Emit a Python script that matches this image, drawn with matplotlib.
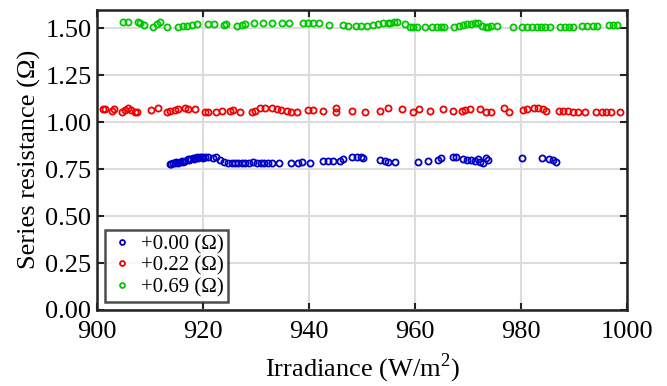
import numpy as np
import matplotlib.pyplot as plt

plt.rcParams['font.family'] = ['Liberation Serif', 'DejaVu Serif']
plt.rcParams['mathtext.fontset'] = 'custom'
plt.rcParams['mathtext.rm'] = 'Liberation Serif'

# Series +0.00 (blue)
blue_x = [913.8, 914.3, 914.7, 915.2, 915.7, 916.2, 916.6, 917.1, 917.5, 918.1,
          918.5, 918.9, 919.4, 919.9, 920.4, 921.0, 921.8, 922.5, 923.2, 924.0,
          924.8, 925.4, 926.0, 926.7, 927.3, 927.9, 928.7, 929.5, 930.1, 930.9,
          931.5, 932.3, 933.1, 934.4, 936.7, 938.0, 938.6, 940.1, 942.6, 943.6,
          944.6, 945.8, 946.5, 948.1, 949.0, 949.8, 950.1, 953.4, 954.3, 955.0,
          956.2, 960.6, 962.5, 964.4, 965.0, 967.1, 967.7, 969.1, 969.9, 970.5,
          971.3, 971.8, 972.3, 972.9, 973.4, 973.8, 980.1, 984.0, 985.3, 986.0,
          986.7, 914.0, 915.0, 916.0, 917.3, 918.3, 919.1, 920.0]
blue_y = [0.777, 0.781, 0.781, 0.784, 0.786, 0.790, 0.795, 0.802, 0.805, 0.808,
          0.810, 0.813, 0.816, 0.816, 0.813, 0.813, 0.808, 0.813, 0.799, 0.790,
          0.784, 0.784, 0.781, 0.784, 0.784, 0.784, 0.784, 0.787, 0.784, 0.781,
          0.784, 0.784, 0.784, 0.781, 0.784, 0.784, 0.790, 0.784, 0.792, 0.795,
          0.792, 0.795, 0.802, 0.813, 0.816, 0.813, 0.808, 0.799, 0.795, 0.790,
          0.786, 0.790, 0.795, 0.799, 0.808, 0.813, 0.816, 0.802, 0.799, 0.799,
          0.795, 0.802, 0.790, 0.781, 0.808, 0.799, 0.808, 0.808, 0.804, 0.799,
          0.790, 0.780, 0.786, 0.792, 0.799, 0.805, 0.810, 0.812]

# Series +0.22 (red)
red_x = [901.1, 901.5, 902.8, 903.2, 904.7, 905.3, 905.9, 906.5, 907.2, 907.6,
         910.1, 911.6, 913.3, 913.8, 914.7, 915.3, 916.6, 917.2, 918.5, 920.4,
         921.0, 922.5, 923.5, 925.1, 925.6, 927.0, 929.2, 929.8, 930.8, 931.7,
         933.0, 933.9, 934.8, 935.8, 936.7, 937.8, 939.9, 940.8, 942.7, 945.1,
         945.1, 948.2, 950.6, 953.4, 955.0, 957.5, 959.7, 960.8, 962.8, 965.3,
         967.2, 968.8, 969.4, 970.4, 972.3, 973.4, 974.3, 976.8, 977.8, 980.3,
         981.1, 982.5, 983.3, 984.2, 984.8, 987.2, 988.0, 988.9, 989.9, 990.8,
         992.1, 994.2, 995.2, 996.0, 997.0, 998.7]
red_y = [1.069, 1.069, 1.061, 1.070, 1.056, 1.065, 1.074, 1.065, 1.053, 1.056,
         1.065, 1.074, 1.053, 1.061, 1.065, 1.069, 1.074, 1.069, 1.069, 1.053,
         1.053, 1.056, 1.061, 1.061, 1.065, 1.053, 1.056, 1.061, 1.074, 1.074,
         1.074, 1.069, 1.065, 1.061, 1.053, 1.056, 1.065, 1.065, 1.061, 1.074,
         1.053, 1.061, 1.053, 1.061, 1.074, 1.069, 1.056, 1.069, 1.061, 1.069,
         1.061, 1.061, 1.065, 1.069, 1.069, 1.056, 1.056, 1.074, 1.053, 1.065,
         1.069, 1.074, 1.074, 1.069, 1.061, 1.061, 1.061, 1.061, 1.056, 1.056,
         1.056, 1.053, 1.053, 1.056, 1.053, 1.056]

# Series +0.69 (green)
green_x = [905.0, 905.8, 907.7, 908.1, 908.9, 910.6, 911.3, 911.9, 913.3, 915.3,
           916.2, 917.0, 917.9, 918.8, 921.0, 922.1, 924.0, 924.3, 926.4, 927.3,
           927.9, 929.6, 931.3, 933.0, 935.0, 936.2, 938.9, 939.9, 940.8, 941.9,
           943.8, 946.5, 947.4, 948.8, 949.8, 950.9, 952.0, 953.0, 953.9, 955.0,
           955.3, 956.0, 956.7, 958.1, 959.1, 959.7, 960.4, 961.8, 963.3, 964.1,
           965.0, 965.5, 967.4, 968.3, 969.1, 969.9, 970.5, 971.3, 971.9, 972.6,
           973.4, 973.8, 974.3, 975.5, 978.4, 980.1, 981.1, 982.0, 983.0, 983.8,
           984.5, 985.5, 987.4, 988.3, 989.1, 989.8, 991.5, 992.5, 993.5, 994.4,
           996.7, 997.4, 998.2]
green_y = [1.532, 1.532, 1.532, 1.527, 1.518, 1.509, 1.521, 1.532, 1.509, 1.509,
           1.512, 1.514, 1.518, 1.521, 1.521, 1.521, 1.518, 1.521, 1.514, 1.518,
           1.521, 1.527, 1.530, 1.527, 1.530, 1.527, 1.527, 1.530, 1.530, 1.527,
           1.518, 1.518, 1.514, 1.512, 1.514, 1.514, 1.518, 1.524, 1.527, 1.530,
           1.530, 1.532, 1.532, 1.521, 1.509, 1.509, 1.509, 1.505, 1.509, 1.509,
           1.509, 1.509, 1.509, 1.514, 1.518, 1.521, 1.524, 1.527, 1.530, 1.514,
           1.509, 1.509, 1.514, 1.514, 1.509, 1.509, 1.509, 1.509, 1.509, 1.509,
           1.509, 1.509, 1.509, 1.509, 1.509, 1.509, 1.512, 1.512, 1.512, 1.512,
           1.518, 1.518, 1.518]

labels = ['+0.00 (\u03a9)', '+0.22 (\u03a9)', '+0.69 (\u03a9)']
colors = ['#0000c8', '#f00000', '#00c800']

fig = plt.figure(figsize=(6.67, 3.86), dpi=100)
ax = fig.add_axes([0.1454, 0.197, 0.7946, 0.778])

for xs, ys, c, lab in zip([blue_x, red_x, green_x], [blue_y, red_y, green_y], colors, labels):
    ax.plot(xs, ys, 'o', mfc='none', mec=c, ms=4.4, mew=1.3, label=lab)

ax.set_xlim(900, 1000)
ax.set_ylim(0, 1.6)
ax.set_xticks(np.arange(900, 1001, 20))
ax.set_yticks(np.arange(0, 1.51, 0.25))
ax.set_yticklabels(['%.2f' % v for v in np.arange(0, 1.51, 0.25)])

ax.grid(True, color='#dcdcdc', lw=1.5)
ax.set_axisbelow(True)
ax.tick_params(direction='in', top=True, right=True, length=5, width=1.5,
               labelsize=19, color='#222222')
ax.tick_params(axis='x', pad=8)
ax.tick_params(axis='y', pad=4)
for spine in ax.spines.values():
    spine.set_linewidth(1.8)
    spine.set_color('#222222')

ax.set_xlabel('Irradiance (W/m$^2$)', fontsize=19, labelpad=6)
ax.set_ylabel('Series resistance (\u03a9)', fontsize=19, labelpad=3)

leg = ax.legend(loc='lower left', fontsize=15, frameon=True, fancybox=False,
                handletextpad=0.3, handlelength=1.2, borderpad=0.2,
                labelspacing=0.1, borderaxespad=0.4, markerscale=0.8)
leg.get_frame().set_edgecolor('#222222')
leg.get_frame().set_linewidth(1.8)

fig.savefig('out.png', dpi=100)
